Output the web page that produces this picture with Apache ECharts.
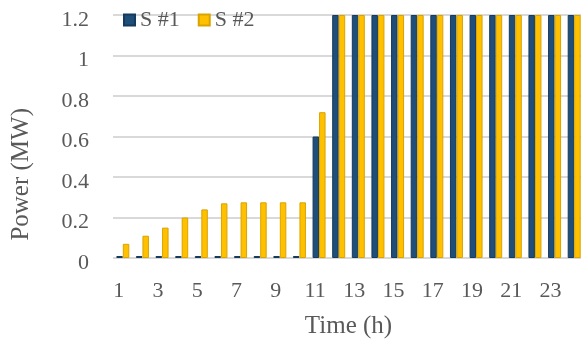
<!DOCTYPE html>
<html>
<head>
<meta charset="utf-8">
<script src="https://cdn.jsdelivr.net/npm/echarts@6/dist/echarts.min.js"></script>
<style>
  html, body { margin: 0; padding: 0; background: #ffffff; }
  #chart { width: 581px; height: 340px; }
</style>
</head>
<body>
<div id="chart"></div>
<script>
// Hourly output of the two units over one day
const hours = ['1','2','3','4','5','6','7','8','9','10','11','12','13','14','15','16','17','18','19','20','21','22','23','24'];
const s1Power = [0, 0, 0, 0, 0, 0, 0, 0, 0, 0, 0.6, 1.2, 1.2, 1.2, 1.2, 1.2, 1.2, 1.2, 1.2, 1.2, 1.2, 1.2, 1.2, 1.2];
const s2Power = [0.07, 0.11, 0.15, 0.2, 0.24, 0.27, 0.275, 0.275, 0.275, 0.275, 0.72, 1.2, 1.2, 1.2, 1.2, 1.2, 1.2, 1.2, 1.2, 1.2, 1.2, 1.2, 1.2, 1.2];
const seriesNames = ['S #1', 'S #2'];

const FONT = '"Liberation Serif", "Times New Roman", serif';
const TEXT = '#595959';

const chart = echarts.init(document.getElementById('chart'), null, { renderer: 'canvas' });
chart.setOption({
  animation: false,
  backgroundColor: '#ffffff',
  grid: { left: 113, right: -3, top: 15, bottom: 82, outerBoundsMode: 'none', containLabel: false },
  legend: {
    data: seriesNames,
    left: 123,
    top: 9,
    padding: 0,
    icon: 'rect',
    itemWidth: 11,
    itemHeight: 11,
    itemGap: 18,
    textStyle: { fontFamily: FONT, fontSize: 22, color: TEXT, padding: [0, 0, 0, 0] }
  },
  xAxis: {
    type: 'category',
    data: hours,
    axisLine: { show: false },
    axisTick: { show: false },
    axisLabel: {
      interval: 1,
      margin: 22,
      padding: [0, 8, 0, 0],
      fontFamily: FONT, fontSize: 22, color: TEXT
    },
    name: 'Time (h)',
    nameLocation: 'middle',
    nameGap: 56,
    nameTextStyle: { fontFamily: FONT, fontSize: 25, color: TEXT }
  },
  yAxis: {
    type: 'value',
    min: 0,
    max: 1.2,
    interval: 0.2,
    axisLine: { show: false },
    axisTick: { show: false },
    axisLabel: {
      margin: 24,
      verticalAlign: 'top',
      lineHeight: 10,
      fontFamily: FONT, fontSize: 22, color: TEXT
    },
    splitLine: { lineStyle: { color: '#d9d9d9', width: 2 } }
  },
  graphic: [{
    type: 'text',
    left: 9,
    top: 108,
    rotation: Math.PI / 2,
    style: {
      text: 'Power (MW)',
      fontFamily: FONT,
      fontSize: 25,
      fill: TEXT
    }
  }],
  series: [
    {
      name: seriesNames[0],
      type: 'bar',
      data: s1Power,
      barWidth: 6.5,
      barGap: '0%',
      barMinHeight: 2,
      itemStyle: { color: '#1f4e79', borderColor: '#163a5c', borderWidth: 1 }
    },
    {
      name: seriesNames[1],
      type: 'bar',
      data: s2Power,
      barWidth: 6.5,
      barGap: '0%',
      itemStyle: { color: '#ffc000', borderColor: '#d9a300', borderWidth: 1 }
    }
  ]
});
</script>
</body>
</html>
